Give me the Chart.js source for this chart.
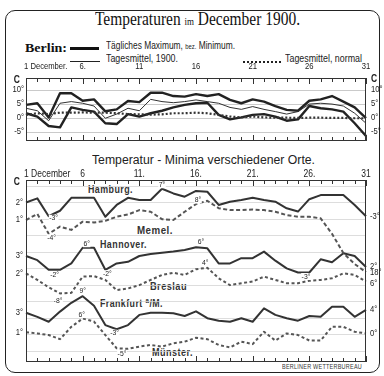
<!DOCTYPE html>
<html><head><meta charset="utf-8">
<script src="https://cdn.jsdelivr.net/npm/chart.js@4.4.1/dist/chart.umd.min.js"></script>
<style>
html,body{margin:0;padding:0;background:#fff;}
#wrap{position:relative;width:384px;height:376px;overflow:hidden;font-family:"Liberation Sans",Arial,sans-serif;color:#222;}
canvas{position:absolute;left:0;top:0;}
.t{position:absolute;white-space:nowrap;line-height:1;transform-origin:left center;}
#frame{position:absolute;left:5px;top:10px;width:373px;height:361px;border:1.5px solid #222;border-radius:10px;}
.st{font-size:10px;font-weight:bold;letter-spacing:0.5px;color:#333;}
</style></head>
<body><div id="wrap">
<div id="frame"></div>
<div class="t" data-w="205" style="left:95px;top:9px;font-family:'Liberation Serif','DejaVu Serif',serif;font-size:19px;color:#111;">Temperaturen <span style="font-size:11px">im</span> December 1900.</div>
<div class="t" data-w="42" style="left:25px;top:41px;font-family:'Liberation Serif','DejaVu Serif',serif;font-size:13px;font-weight:bold;color:#111;">Berlin:</div>
<div style="position:absolute;left:70px;top:47px;width:29px;height:2.5px;background:#111;"></div>
<div class="t" data-w="129" style="left:106px;top:41px;font-size:10px;">Tägliches Maximum, <span style="font-size:7px">bez.</span> Minimum.</div>
<div style="position:absolute;left:70px;top:61px;width:30px;height:1px;background:#222;"></div>
<div class="t" data-w="72" style="left:106px;top:54px;font-size:10px;">Tagesmittel, 1900.</div>
<div style="position:absolute;left:243px;top:61px;width:38px;height:0;border-top:2px dotted #222;"></div>
<div class="t" data-w="77" style="left:285px;top:54px;font-size:10px;">Tagesmittel, normal</div>
<div class="t" data-w="223" style="left:92px;top:154px;font-size:12.5px;">Temperatur - Minima verschiedener Orte.</div>
<div class="t st" data-w="45" style="left:88px;top:185px;">Hamburg.</div>
<div class="t st" data-w="36" style="left:137px;top:226px;">Memel.</div>
<div class="t st" data-w="47" style="left:100px;top:240px;">Hannover.</div>
<div class="t st" data-w="37" style="left:150px;top:282px;">Breslau</div>
<div class="t st" data-w="63" style="left:100px;top:297px;">Frankfurt <sup style="font-size:7px">a</sup>/M.</div>
<div class="t st" data-w="41" style="left:152px;top:348px;">Münster.</div>
<div class="t" data-w="80" style="left:282px;top:363px;font-size:7px;letter-spacing:0.3px;color:#333;">BERLINER WETTERBUREAU</div>
<canvas id="c1" width="384" height="376"></canvas>
<canvas id="c2" width="384" height="376"></canvas>
</div>
<script>
// ---- categories ----
const days = [1,2,3,4,5,6,7,8,9,10,11,12,13,14,15,16,17,18,19,20,21,22,23,24,25,26,27,28,29,30,31];
const topDayTicks = [1,6,11,16,21,26,31];
const topDayLabels = ['1 December.','6.','11','16','21','26','31'];
const botDayTicks = [1,6,11,16,21,26,31];
const botDayLabels = ['1 December','6','11.','16.','21.','26.','31'];
const topYTicks = [10,5,0,-5];
const topYLabels = ['10°','5°','0°','-5°'];

// ---- Berlin, December 1900 (°C) ----
const berlinMax    = [4.6,5.2,0.1,8.8,8.8,6.1,6.6,2.3,3.0,6.0,5.6,9.0,9.0,7.8,7.6,8.5,7.8,8.5,6.4,5.2,6.6,5.8,4.2,2.8,2.5,6.1,6.6,7.8,5.8,3.7,-0.2];
const berlinMean   = [3.4,2.5,-1.1,5.2,5.8,5.2,4.2,-0.2,1.3,3.4,2.5,6.6,5.8,5.4,5.8,6.4,5.8,5.2,3.7,3.0,4.0,3.0,2.2,1.3,2.2,4.9,5.2,4.9,4.2,1.6,-2.0];
const berlinMin    = [1.6,0.4,-3.0,-3.5,3.7,2.8,2.2,-2.0,-2.3,1.3,0.4,1.6,2.5,3.7,4.6,5.2,5.4,1.0,-0.6,0.1,1.0,1.3,0.4,-1.1,-0.6,4.2,3.4,3.0,2.2,-2.0,-6.6];
const berlinNormal = [1.0,1.6,1.3,1.8,1.8,1.9,1.8,1.8,1.6,1.3,1.2,1.1,1.2,1.6,1.6,1.8,1.6,1.0,0.4,0.1,0.4,0.1,0.0,0.0,-0.1,0.0,0.0,-0.1,-0.1,-0.2,-0.2];

// ---- Temperature minima of other stations (°C) ----
const hamburg   = [2,3.5,-3,-1,3.7,3.7,3.7,-3.2,1.1,3.7,2.9,2.9,7,5.3,4.1,6.2,5.9,1.1,2.3,2.9,3.7,2.9,2.3,-0.1,-1.3,3.2,4.7,4.7,4.7,1.1,-3];
const memel     = [1,3.2,-4,-1.4,-2.6,0.4,0.1,0.7,2.2,3.0,4.6,4.0,1.3,1.0,4.0,6.8,8,5.3,4.6,4.6,4.8,4.6,4.0,2.8,2.2,2.2,1.6,-4,-11,-15,-18];
const hannover  = [3,1.5,-2,-2,0.3,6,6,-2,0.3,0.9,3,3.7,4.2,4.6,5.2,6.2,5.8,0.3,0.3,2.2,2.2,4.6,1.3,-1.5,-3,-3,1.8,0.7,4.0,3.0,-1];
const breslau   = [2,-0.4,-3.1,-5.3,-5.1,0.8,1.0,-0.4,-4.1,-3.5,-2.3,-0.4,1.4,2.2,1.4,3.5,4,0.2,-2.3,-1.6,-1.0,0.8,-0.4,-1.6,-1.6,-0.7,-0.4,0.2,2,1.4,-1.0];
const frankfurt = [3,1.5,-0.3,3.4,6.6,9,5.5,-1.5,-3,-1.5,2.2,3,3,2.8,1.8,3.5,1,0.1,-0.3,1,-0.3,4.6,2.2,1,0.1,1.8,1.5,5.2,5.2,1.5,4];
const muenster  = [1,0.6,0,-1.5,3,6,4.9,0,-4.8,-5,-4.2,-3.6,-4.2,-3,-2.4,-1,-1.5,-3.6,-4.5,-2.4,-3.3,1.2,-2,0.6,0,-2,-2,3,3,1.2,0.6];

// value labels written on the chart: [dataset, day, text]
const valueLabels = [
  [0,3,'-3°'],[1,3,'-4°'],[0,13,'7°'],[1,16,'8°'],[2,6,'6°'],[2,3,'-2°'],[2,8,'-2°'],
  [2,16,'6°'],[3,17,'4°'],[2,25,'-3°'],[3,4,'-8°'],[4,6,'9°'],[5,6,'6°'],[4,9,'-3°'],[5,10,'-5°']
];
const startLabels = ['2°','1°','3°','2°','3°','1°'];
const endLabels   = ['-3°','18°','2°','6°','4°','0°'];

// fit HTML texts to their measured widths (layout)
document.querySelectorAll('[data-w]').forEach(el=>{
  const w = el.getBoundingClientRect().width;
  el.style.transform = 'scaleX(' + (el.dataset.w / w) + ')';
});

const FONT = '"Liberation Sans",Arial,sans-serif';
const SX = 0.85;
const labelOffsets = [[5,2],[3,4],[0,-4],[2,-4],[4,-4],[6,5],[2,4],[5,-5],[-2,-5],[8,4],[-2,7],[0,-5],[-1,-4],[-2,4],[-6,5]];
const endOffsets = [[0,0],[0,0],[0,0],[0,1.5],[0,0],[0,0]];

function txt(ctx, s, x, y, align){
  ctx.save(); ctx.translate(x, y); ctx.scale(SX, 1); ctx.textAlign = align; ctx.fillText(s, 0, 0); ctx.restore();
}

const decor = {
  id:'decor',
  beforeDatasetsDraw(chart, args, o){
    const {ctx, chartArea:a} = chart;
    const gs = chart.scales[o.gridAxis];
    ctx.save();
    ctx.strokeStyle = o.gridColor; ctx.lineWidth = 0.8;
    o.gridValues.forEach(v=>{
      const y = Math.round(gs.getPixelForValue(v))+0.5;
      ctx.beginPath(); ctx.moveTo(a.left,y); ctx.lineTo(a.right,y); ctx.stroke();
    });
    ctx.restore();
  },
  afterDatasetsDraw(chart, args, o){
    const {ctx, chartArea:a} = chart; const xs = chart.scales.x;
    ctx.save();
    ctx.strokeStyle = '#333'; ctx.lineWidth = 1;
    ctx.strokeRect(a.left+0.5, a.top+0.5, a.right-a.left-1, a.bottom-a.top-1);
    days.forEach((d,i)=>{
      const x = Math.round(xs.getPixelForValue(i))+0.5;
      const len = (d%5===1)? 6 : 4;
      ctx.beginPath(); ctx.moveTo(x,a.top); ctx.lineTo(x,a.top+len);
      ctx.moveTo(x,a.bottom); ctx.lineTo(x,a.bottom-len); ctx.stroke();
    });
    ctx.fillStyle = '#222';
    ctx.font = o.dayFont; ctx.textBaseline = 'alphabetic';
    o.dayTicks.forEach((d,k)=>{
      const x = xs.getPixelForValue(days.indexOf(d));
      txt(ctx, o.dayLabels[k], k===0 ? x-2 : x, a.top - o.dayGap, k===0 ? 'left' : 'center');
    });
    ctx.font = 'bold 10px ' + FONT; ctx.textBaseline = 'middle';
    txt(ctx, 'C', a.left-6, a.top+2, 'right');
    if (o.rightC) txt(ctx, 'C', a.right+5, a.top+1, 'left');
    ctx.font = '9px ' + FONT;
    if (o.yTicks){
      const ys = chart.scales.y;
      o.yTicks.forEach((v,k)=>{
        const y = ys.getPixelForValue(v);
        txt(ctx, o.yLabels[k], a.left-2, y, 'right');
        txt(ctx, o.yLabels[k], a.right+5, y, 'left');
      });
    }
    if (o.sideLabels){
      ctx.font = '9px ' + FONT;
      chart.data.datasets.forEach((ds,i)=>{
        const sc = chart.scales[ds.yAxisID];
        txt(ctx, startLabels[i], a.left-3, sc.getPixelForValue(ds.data[0]), 'right');
        txt(ctx, endLabels[i], a.right+4+endOffsets[i][0], sc.getPixelForValue(ds.data[30])+endOffsets[i][1], 'left');
      });
      ctx.font = '8px ' + FONT;
      valueLabels.forEach(([di,day,s],k)=>{
        const ds = chart.data.datasets[di]; const sc = chart.scales[ds.yAxisID];
        const x = xs.getPixelForValue(day-1) + labelOffsets[k][0];
        const y = sc.getPixelForValue(ds.data[day-1]) + labelOffsets[k][1];
        const w = ctx.measureText(s).width * SX;
        ctx.fillStyle='#fff'; ctx.fillRect(x-w/2-0.5, y-3.5, w+1, 7);
        ctx.fillStyle='#222'; txt(ctx, s, x, y, 'center');
      });
    }
    ctx.restore();
  }
};

Chart.defaults.font.family = FONT;
const line = (data, w, dash, color, axis) => ({data, borderWidth:w, borderDash:dash, borderColor:color,
  pointRadius:0, tension:0, fill:false, yAxisID:axis, borderCapStyle:'butt', borderJoinStyle:'round'});

new Chart(document.getElementById('c1'), {
  type:'line',
  data:{labels:days, datasets:[
    line(berlinNormal, 2.2, [2,2], '#333', 'y'),
    line(berlinMin, 2.4, [], '#222', 'y'),
    line(berlinMean, 1, [], '#333', 'y'),
    line(berlinMax, 2.4, [], '#222', 'y')
  ]},
  options:{
    responsive:false, devicePixelRatio:1, animation:false,
    layout:{padding:{left:26,right:18,top:78,bottom:235}},
    scales:{
      x:{type:'category', offset:false, display:false},
      y:{min:-8.4, max:14.3, display:false}
    },
    plugins:{legend:{display:false}, tooltip:{enabled:false},
      decor:{gridAxis:'y', gridValues:[10,5,0,-5], gridColor:'#bdbdbd',
        dayTicks:topDayTicks, dayLabels:topDayLabels, dayFont:'9px '+FONT, dayGap:9,
        yTicks:topYTicks, yLabels:topYLabels, rightC:true}}
  },
  plugins:[decor]
});

new Chart(document.getElementById('c2'), {
  type:'line',
  data:{labels:days, datasets:[
    line(hamburg, 2, [], '#333', 'yHam'),
    line(memel, 2, [4,2.5], '#555', 'yMem'),
    line(hannover, 2, [], '#333', 'yHan'),
    line(breslau, 2, [3,2.5], '#555', 'yBre'),
    line(frankfurt, 2, [], '#333', 'yFra'),
    line(muenster, 2, [3,2.5], '#555', 'yMun')
  ]},
  options:{
    responsive:false, devicePixelRatio:1, animation:false,
    layout:{padding:{left:26,right:18,top:180,bottom:14}},
    scales:{
      x:{type:'category', offset:false, display:false},
      yHam:{min:-56.0, max:10.18, display:false},
      yMem:{min:-50.63, max:15.55, display:false},
      yHan:{min:-35.54, max:30.64, display:false},
      yBre:{min:-30.25, max:35.93, display:false},
      yFra:{min:-14.93, max:51.25, display:false},
      yMun:{min:-9.80, max:56.38, display:false}
    },
    plugins:{legend:{display:false}, tooltip:{enabled:false},
      decor:{gridAxis:'yHam', gridValues:[8,2,-4,-10,-16,-22,-28,-34,-40,-46,-52], gridColor:'#d4d4d4',
        dayTicks:botDayTicks, dayLabels:botDayLabels, dayFont:'10px '+FONT, dayGap:3,
        sideLabels:true}}
  },
  plugins:[decor]
});
</script>
</body></html>
